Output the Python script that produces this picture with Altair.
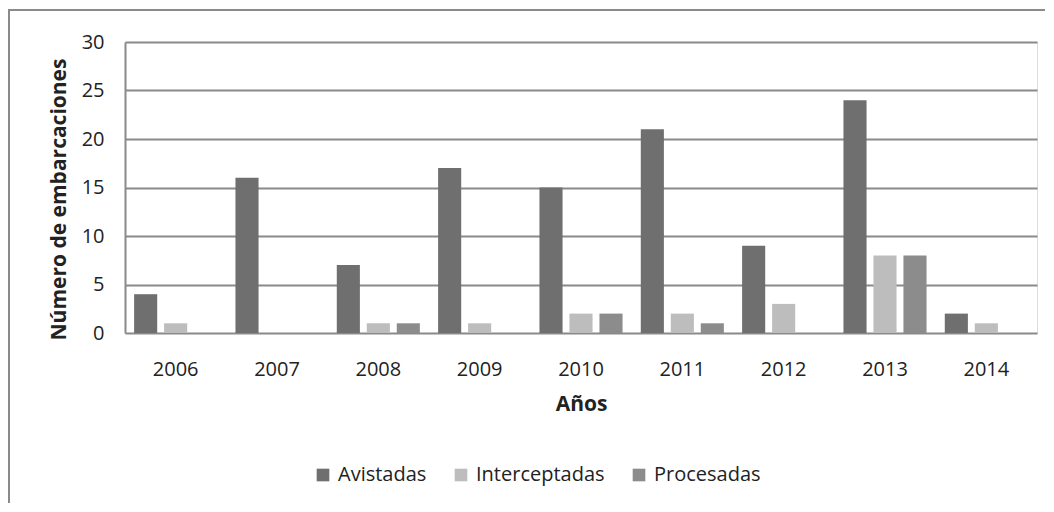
import altair as alt
import pandas as pd

years = ["2006", "2007", "2008", "2009", "2010", "2011", "2012", "2013", "2014"]
series = ["Avistadas", "Interceptadas", "Procesadas"]
avistadas = [4, 16, 7, 17, 15, 21, 9, 24, 2]
interceptadas = [1, 0, 1, 1, 2, 2, 3, 8, 1]
procesadas = [0, 0, 1, 0, 2, 1, 0, 8, 0]
colors = ["#6f6f6f", "#bdbdbd", "#8c8c8c"]

rows = []
for i, y in enumerate(years):
    for s, vals in zip(series, [avistadas, interceptadas, procesadas]):
        rows.append({"Año": y, "Serie": s, "Valor": vals[i]})
df = pd.DataFrame(rows)

FONT = "Open Sans"

bars = alt.Chart(df).mark_bar().encode(
    x=alt.X("Año:N", sort=years,
            scale=alt.Scale(paddingInner=0.18, paddingOuter=0.09),
            axis=alt.Axis(title="Años", labelAngle=0, ticks=False, domain=False,
                          labelPadding=26, titlePadding=14, labelFontSize=20,
                          titleFontSize=21, titleFontWeight="bold",
                          labelColor="#222", titleColor="#222",
                          labelFont=FONT, titleFont=FONT)),
    xOffset=alt.XOffset("Serie:N", sort=series,
                        scale=alt.Scale(paddingInner=0.23, paddingOuter=0)),
    y=alt.Y("Valor:Q", scale=alt.Scale(domain=[0, 30], nice=False),
            axis=alt.Axis(title="Número de embarcaciones", values=[0, 5, 10, 15, 20, 25, 30],
                          ticks=False, domain=True, domainColor="#8a8a8a", domainWidth=2,
                          grid=True, gridColor="#8a8a8a", gridWidth=2,
                          labelPadding=21, titlePadding=12, labelFontSize=20,
                          titleFontSize=21, titleFontWeight="bold", titleY=157,
                          labelColor="#222", titleColor="#222",
                          labelFont=FONT, titleFont=FONT)),
    color=alt.Color("Serie:N", sort=series,
                    scale=alt.Scale(domain=series, range=colors),
                    legend=alt.Legend(title=None, orient="none", direction="horizontal",
                                      legendX=188, legendY=423, symbolType="square",
                                      symbolSize=160, symbolStrokeWidth=0,
                                      labelFontSize=20, labelFont=FONT, labelColor="#222",
                                      columnPadding=24, labelOffset=5)),
)

border = alt.Chart(pd.DataFrame({"a": [0]})).mark_rect(
    fillOpacity=0, stroke="#8a8a8a", strokeWidth=2
).encode(x=alt.value(-116), x2=alt.value(940), y=alt.value(-32), y2=alt.value(500))

chart = alt.layer(border, bars).properties(
    width=912, height=291,
    padding={"left": 117, "top": 34, "right": 8, "bottom": 170},
    autosize=alt.AutoSizeParams(type="none"),
).configure_view(stroke=None).configure(background="white")

chart.save("out.html", embed_options={"renderer": "svg", "actions": False})
